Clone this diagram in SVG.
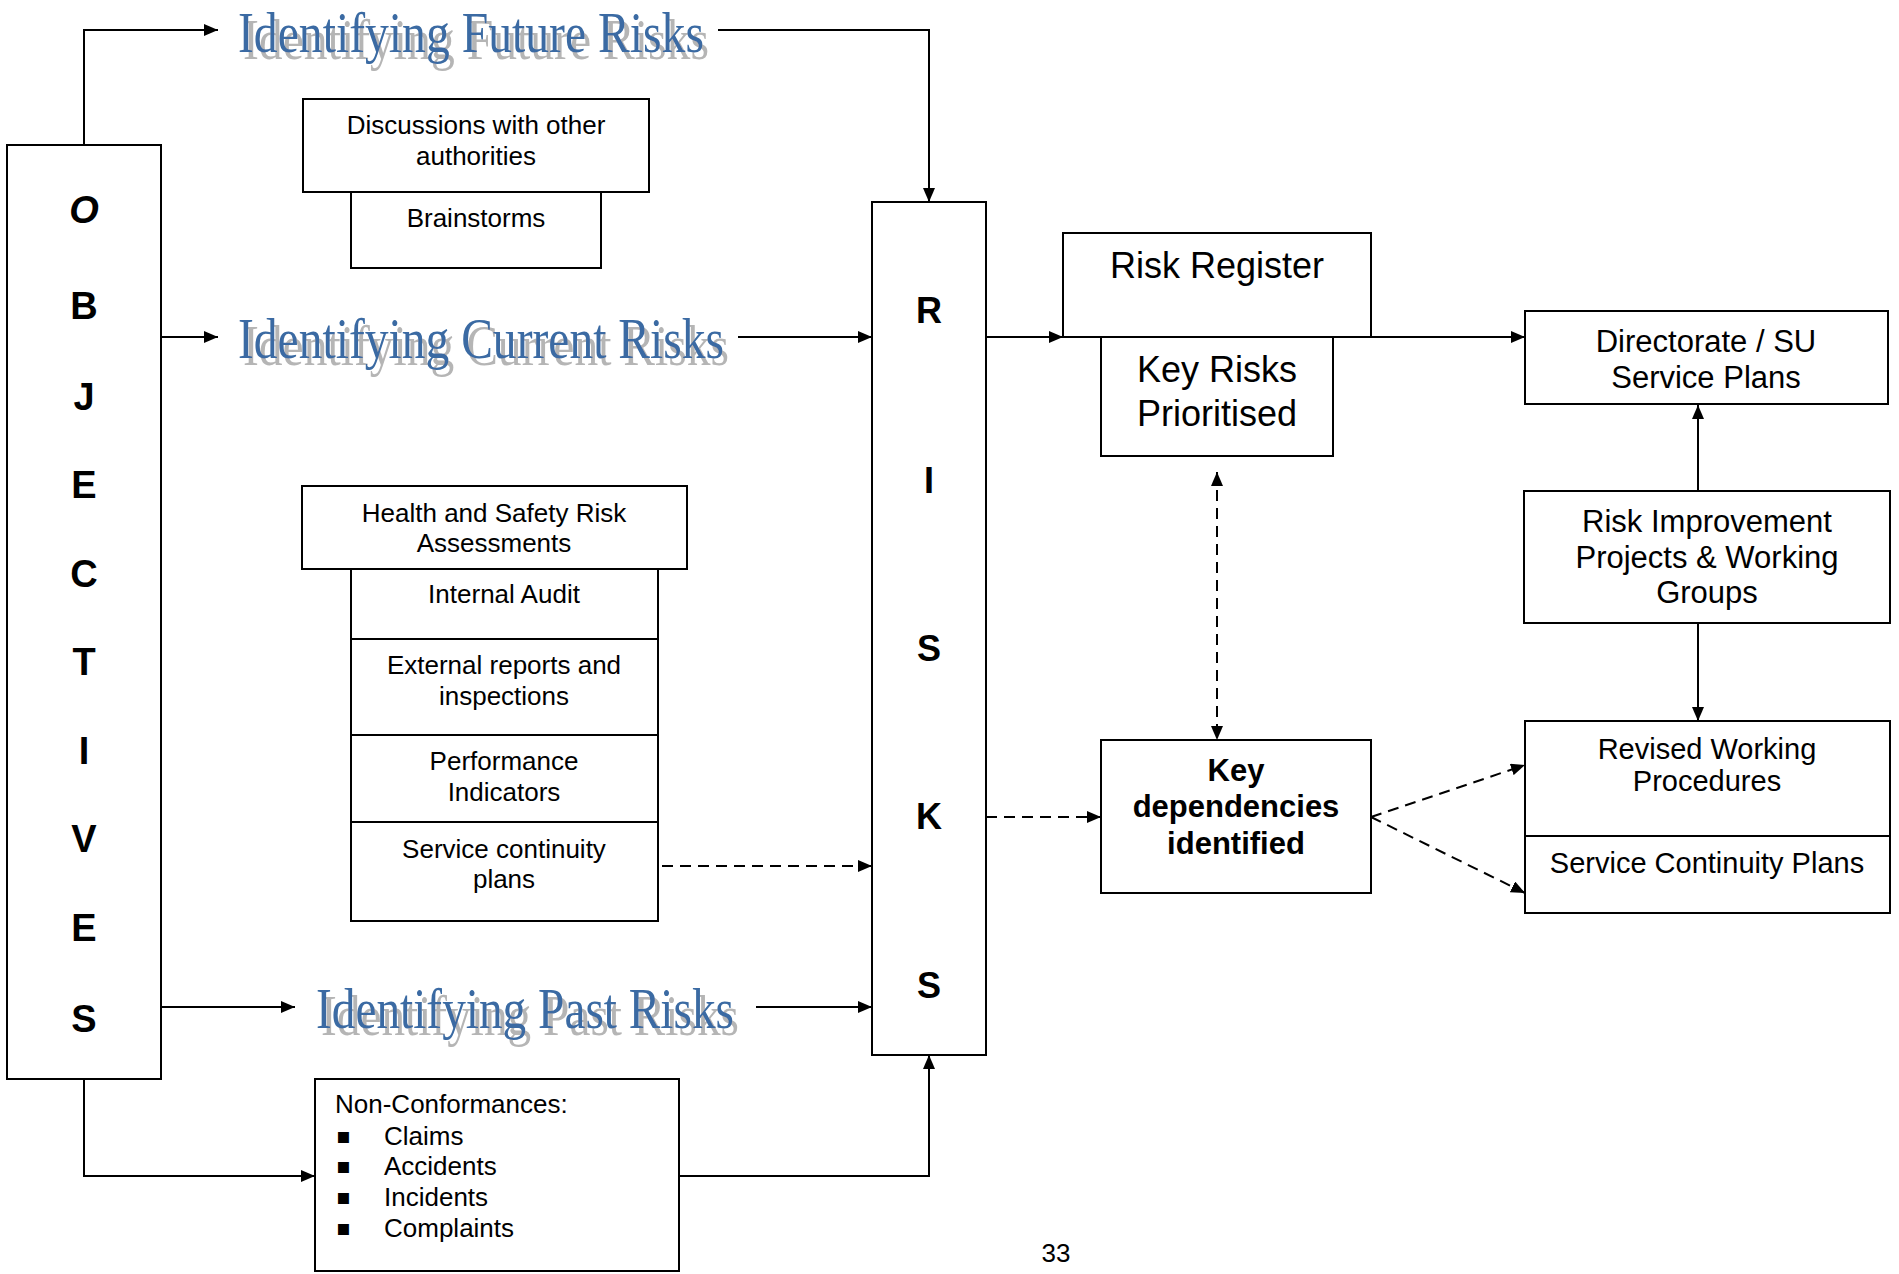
<svg xmlns="http://www.w3.org/2000/svg" width="1899" height="1274" viewBox="0 0 1899 1274">
<style>
.box{fill:#fff;stroke:#000;stroke-width:2}
.t{font-family:"Liberation Sans",Arial,sans-serif;font-size:26px;fill:#000;text-anchor:middle}
.tl{font-family:"Liberation Sans",Arial,sans-serif;font-size:26px;fill:#000}
.big{font-size:36px}
.mid{font-size:31px}
.sm{font-size:29px}
.b{font-weight:bold}
.let{font-family:"Liberation Sans",Arial,sans-serif;font-weight:bold;font-size:38px;text-anchor:middle;fill:#000}
.rl{font-family:"Liberation Sans",Arial,sans-serif;font-weight:bold;font-size:36px;text-anchor:middle;fill:#000}
.wa{font-family:"Liberation Serif","Times New Roman",serif;font-size:58px;fill:#3a6ba3;filter:url(#shadow)}
.c{fill:none;stroke:#000;stroke-width:2}
.d{stroke-dasharray:11 7}
.bul{font-family:"DejaVu Sans",sans-serif;font-size:22px;fill:#000}
</style>
<defs>
<marker id="ah" viewBox="0 0 14 12" markerWidth="14" markerHeight="12" refX="14" refY="6" orient="auto-start-reverse" markerUnits="userSpaceOnUse">
<path d="M0,0 L14,6 L0,12 z" fill="#000"/>
</marker>
<filter id="shadow" x="-5%" y="-20%" width="115%" height="160%">
<feFlood flood-color="#b5b5b5" result="f"/>
<feComposite in="f" in2="SourceAlpha" operator="in" result="s"/>
<feOffset in="s" dx="5" dy="7" result="o"/>
<feMerge><feMergeNode in="o"/><feMergeNode in="SourceGraphic"/></feMerge>
</filter>
</defs>

<g id="objectives">
<rect class="box" x="7" y="145" width="154" height="934"/>
<text class="let" x="84" y="223" font-style="italic">O</text>
<text class="let" x="84" y="319">B</text>
<text class="let" x="84" y="410">J</text>
<text class="let" x="84" y="498">E</text>
<text class="let" x="84" y="587">C</text>
<text class="let" x="84" y="675">T</text>
<text class="let" x="84" y="764">I</text>
<text class="let" x="84" y="852">V</text>
<text class="let" x="84" y="941">E</text>
<text class="let" x="84" y="1032">S</text>
</g>

<g id="title-future">
<text class="wa" x="238" y="52" textLength="466" lengthAdjust="spacingAndGlyphs">Identifying Future Risks</text>
</g>
<g id="title-current">
<text class="wa" x="238" y="358" textLength="486" lengthAdjust="spacingAndGlyphs">Identifying Current Risks</text>
</g>
<g id="title-past">
<text class="wa" x="316" y="1028" textLength="418" lengthAdjust="spacingAndGlyphs">Identifying Past Risks</text>
</g>

<g id="discussions">
<rect class="box" x="303" y="99" width="346" height="93"/>
<text class="t" x="476" y="134">Discussions with other</text>
<text class="t" x="476" y="165">authorities</text>
</g>
<g id="brainstorms">
<rect class="box" x="351" y="192" width="250" height="76"/>
<text class="t" x="476" y="227">Brainstorms</text>
</g>

<g id="hs-risk">
<rect class="box" x="302" y="486" width="385" height="83"/>
<text class="t" x="494" y="522">Health and Safety Risk</text>
<text class="t" x="494" y="552">Assessments</text>
</g>
<g id="internal-audit">
<rect class="box" x="351" y="569" width="307" height="70"/>
<text class="t" x="504" y="603">Internal Audit</text>
</g>
<g id="external-reports">
<rect class="box" x="351" y="639" width="307" height="96"/>
<text class="t" x="504" y="674">External reports and</text>
<text class="t" x="504" y="705">inspections</text>
</g>
<g id="performance">
<rect class="box" x="351" y="735" width="307" height="87"/>
<text class="t" x="504" y="770">Performance</text>
<text class="t" x="504" y="801">Indicators</text>
</g>
<g id="service-continuity">
<rect class="box" x="351" y="822" width="307" height="99"/>
<text class="t" x="504" y="858">Service continuity</text>
<text class="t" x="504" y="888">plans</text>
</g>

<g id="non-conformances">
<rect class="box" x="315" y="1079" width="364" height="192"/>
<text class="tl" x="335" y="1113">Non-Conformances:</text>
<text class="bul" x="336" y="1143">▪</text>
<text class="bul" x="336" y="1173">▪</text>
<text class="bul" x="336" y="1204">▪</text>
<text class="bul" x="336" y="1235">▪</text>
<text class="tl" x="384" y="1145">Claims</text>
<text class="tl" x="384" y="1175">Accidents</text>
<text class="tl" x="384" y="1206">Incidents</text>
<text class="tl" x="384" y="1237">Complaints</text>
</g>

<g id="risks">
<rect class="box" x="872" y="202" width="114" height="853"/>
<text class="rl" x="929" y="323">R</text>
<text class="rl" x="929" y="493">I</text>
<text class="rl" x="929" y="661">S</text>
<text class="rl" x="929" y="829">K</text>
<text class="rl" x="929" y="998">S</text>
</g>

<g id="risk-register">
<rect class="box" x="1063" y="233" width="308" height="104"/>
<text class="t big" x="1217" y="278">Risk Register</text>
</g>
<g id="key-risks">
<rect class="box" x="1101" y="337" width="232" height="119"/>
<text class="t big" x="1217" y="382">Key Risks</text>
<text class="t big" x="1217" y="426">Prioritised</text>
</g>
<g id="key-dependencies">
<rect class="box" x="1101" y="740" width="270" height="153"/>
<text class="t mid b" x="1236" y="781">Key</text>
<text class="t mid b" x="1236" y="817">dependencies</text>
<text class="t mid b" x="1236" y="854">identified</text>
</g>

<g id="directorate">
<rect class="box" x="1525" y="311" width="363" height="93"/>
<text class="t mid" x="1706" y="352">Directorate / SU</text>
<text class="t mid" x="1706" y="388">Service Plans</text>
</g>
<g id="risk-improvement">
<rect class="box" x="1524" y="491" width="366" height="132"/>
<text class="t mid" x="1707" y="532">Risk Improvement</text>
<text class="t mid" x="1707" y="568">Projects &amp; Working</text>
<text class="t mid" x="1707" y="603">Groups</text>
</g>
<g id="revised-procedures">
<rect class="box" x="1525" y="721" width="365" height="115"/>
<text class="t sm" x="1707" y="759">Revised Working</text>
<text class="t sm" x="1707" y="791">Procedures</text>
</g>
<g id="service-continuity-plans">
<rect class="box" x="1525" y="836" width="365" height="77"/>
<text class="t sm" x="1707" y="873">Service Continuity Plans</text>
</g>

<text class="t" x="1056" y="1262">33</text>

<g id="connectors">
<path class="c" d="M84,145 V30 H218" marker-end="url(#ah)"/>
<path class="c" d="M718,30 H929 V202" marker-end="url(#ah)"/>
<path class="c" d="M161,337 H218" marker-end="url(#ah)"/>
<path class="c" d="M738,337 H872" marker-end="url(#ah)"/>
<path class="c" d="M986,337 H1063" marker-end="url(#ah)"/>
<path class="c" d="M1371,337 H1525" marker-end="url(#ah)"/>
<path class="c" d="M1698,491 V405" marker-end="url(#ah)"/>
<path class="c" d="M1698,623 V721" marker-end="url(#ah)"/>
<path class="c d" d="M1217,472 V740" marker-start="url(#ah)" marker-end="url(#ah)"/>
<path class="c d" d="M986,817 H1101" marker-end="url(#ah)"/>
<path class="c d" d="M1371,817 L1525,765" marker-end="url(#ah)"/>
<path class="c d" d="M1371,817 L1525,893" marker-end="url(#ah)"/>
<path class="c d" d="M662,866 H872" marker-end="url(#ah)"/>
<path class="c" d="M161,1007 H295" marker-end="url(#ah)"/>
<path class="c" d="M756,1007 H872" marker-end="url(#ah)"/>
<path class="c" d="M84,1079 V1176 H315" marker-end="url(#ah)"/>
<path class="c" d="M679,1176 H929 V1055" marker-end="url(#ah)"/>
</g>
</svg>
